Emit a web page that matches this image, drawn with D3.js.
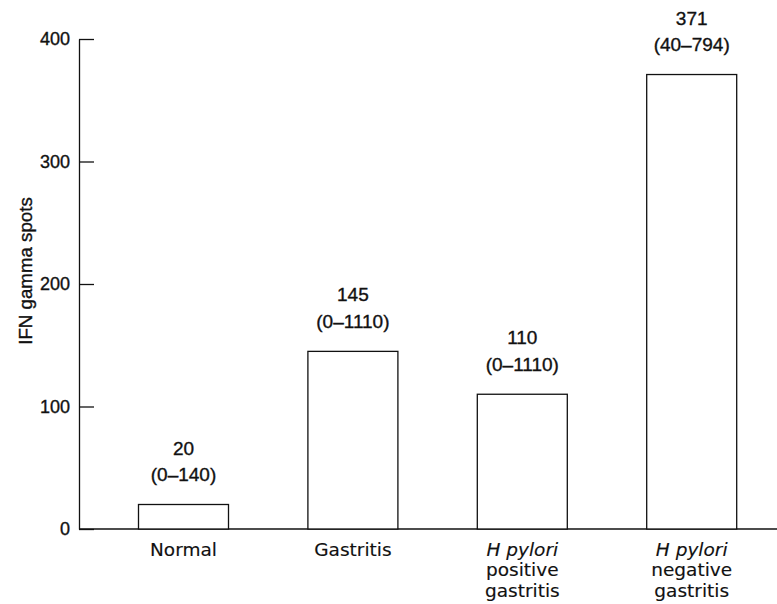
<!DOCTYPE html>
<html>
<head>
<meta charset="utf-8">
<script src="https://cdn.jsdelivr.net/npm/d3@7"></script>
<style>
  body { margin: 0; background: #fff; }
  svg text { font-family: "Liberation Sans", Arial, Helvetica, sans-serif; fill: #111; stroke: #111; stroke-width: 0.35px; }
  svg text.cat { font-family: "DejaVu Sans", sans-serif; stroke-width: 0.15px; }
</style>
</head>
<body>
<svg id="chart" width="777" height="604"></svg>
<script>
// data
var groups = ["Normal", "Gastritis", "H pylori positive gastritis", "H pylori negative gastritis"];
var medians = [20, 145, 110, 371];
var ranges = ["(0\u2013140)", "(0\u20131110)", "(0\u20131110)", "(40\u2013794)"];
var labelLines = [
  [{ t: "Normal" }],
  [{ t: "Gastritis" }],
  [{ t: "H pylori", i: true }, { t: "positive" }, { t: "gastritis" }],
  [{ t: "H pylori", i: true }, { t: "negative" }, { t: "gastritis" }]
];
var yTicks = [0, 100, 200, 300, 400];

var svg = d3.select("#chart");
var width = +svg.attr("width");
var axisX = 79, baseY = 529, topY = 39;
var barWidth = 90;

var y = d3.scaleLinear().domain([0, 400]).range([baseY, topY]);
var x = d3.scalePoint().domain(groups).range([183.5, 691.7]);

// y axis, ticks pointing inward
var yAxis = d3.axisLeft(y)
              .tickValues(yTicks)
              .tickSizeInner(-15)
              .tickSizeOuter(0)
              .tickPadding(9);

var gy = svg.append("g")
    .attr("transform", "translate(" + axisX + ",0)")
    .call(yAxis);
gy.selectAll("path, line").attr("stroke", "#111").attr("stroke-width", 1.3);
gy.selectAll("text")
    .style("font-size", "18px")
    .attr("fill", "#111");

// baseline
svg.append("line")
    .attr("x1", axisX).attr("x2", width)
    .attr("y1", baseY).attr("y2", baseY)
    .attr("stroke", "#111")
    .attr("stroke-width", 1.3);

svg.append("text")
    .attr("transform", "rotate(-90)")
    .attr("x", -271)
    .attr("y", 32)
    .style("text-anchor", "middle")
    .style("font-size", "18.7px")
    .text("IFN gamma spots");

var data = groups.map((g, i) => ({ group: g, value: medians[i], range: ranges[i], lines: labelLines[i] }));

svg.selectAll(".bar")
  .data(data)
  .enter()
  .append("rect")
    .classed("bar", true)
    .attr("x", d => x(d.group) - barWidth / 2)
    .attr("y", d => y(d.value))
    .attr("width", barWidth)
    .attr("height", d => baseY - y(d.value))
    .attr("fill", "#fff")
    .attr("stroke", "#111")
    .attr("stroke-width", 1.3);

// value and range labels
svg.selectAll(".val")
  .data(data)
  .enter()
  .append("text")
    .classed("val", true)
    .attr("x", d => x(d.group))
    .attr("y", d => y(d.value) - 50)
    .style("text-anchor", "middle")
    .style("font-size", "19px")
    .text(d => d.value);

svg.selectAll(".rng")
  .data(data)
  .enter()
  .append("text")
    .classed("rng", true)
    .attr("x", d => x(d.group))
    .attr("y", d => y(d.value) - 23.5)
    .style("text-anchor", "middle")
    .style("font-size", "19px")
    .text(d => d.range);

// category labels
var cat = svg.selectAll(".cat")
  .data(data)
  .enter()
  .append("text")
    .classed("cat", true)
    .attr("x", d => x(d.group))
    .attr("y", 556)
    .style("text-anchor", "middle")
    .style("font-size", "18.5px");

cat.selectAll("tspan")
  .data(d => d.lines.map(l => Object.assign({ cx: x(d.group) }, l)))
  .enter()
  .append("tspan")
    .attr("x", d => d.cx)
    .attr("dy", (d, i) => i === 0 ? 0 : 20.3)
    .style("font-style", d => d.i ? "italic" : "normal")
    .text(d => d.t);
</script>
</body>
</html>
